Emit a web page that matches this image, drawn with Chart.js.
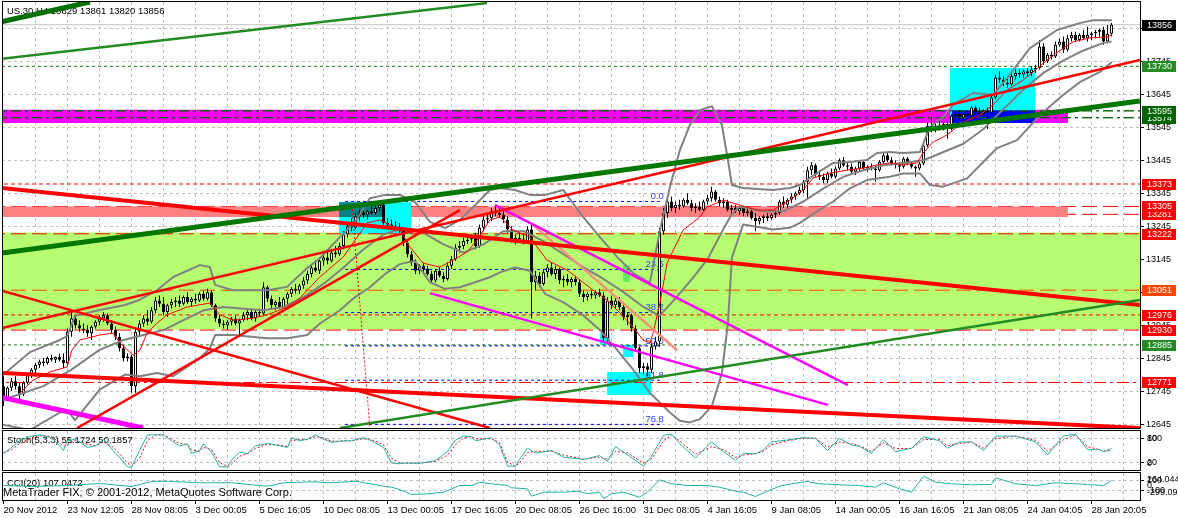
<!DOCTYPE html>
<html>
<head>
<meta charset="utf-8">
<script src="https://cdn.jsdelivr.net/npm/chart.js@4.4.1/dist/chart.umd.min.js"></script>
<style>
html,body{margin:0;padding:0;background:#ffffff;}
#wrap{position:relative;width:1178px;height:518px;overflow:hidden;background:#ffffff;}
#wrap canvas{position:absolute;left:0;}
</style>
</head>
<body>
<div id="wrap">
<canvas id="cMain" width="1178" height="430" style="top:0px"></canvas>
<canvas id="cStoch" width="1178" height="41" style="top:430px"></canvas>
<canvas id="cCci" width="1178" height="46" style="top:472px"></canvas>
</div>
<script>
// ---------------- DATA ----------------
const symbolInfo = 'US.30,H4 13829 13861 13820 13856';
const stochTitle = 'Stoch(5,3,3) 55.1724 50.1857';
const cciTitle = 'CCI(20) 107.0472';
const copyrightText = 'MetaTrader FIX, \u00A9 2001-2012, MetaQuotes Software Corp.';

const timeLabels = ['20 Nov 2012','23 Nov 12:05','28 Nov 08:05','3 Dec 00:05','5 Dec 16:05','10 Dec 08:05',
  '13 Dec 00:05','17 Dec 16:05','20 Dec 08:05','26 Dec 16:00','31 Dec 08:05','4 Jan 16:05','9 Jan 08:05',
  '14 Jan 00:05','16 Jan 16:05','21 Jan 08:05','24 Jan 04:05','28 Jan 20:05'];
const priceTicks = [12645,12745,12845,12945,13045,13145,13245,13345,13445,13545,13645,13745,13845];

// [open, high, low, close] per H4 bar
const candles = [
[12760,12790,12700,12725],[12725,12760,12720,12755],[12755,12785,12745,12775],[12775,12790,12750,12760],
[12760,12770,12720,12735],[12735,12775,12730,12770],[12770,12800,12765,12795],[12795,12815,12785,12810],
[12810,12830,12800,12825],[12825,12840,12815,12835],[12835,12845,12820,12830],[12830,12850,12825,12845],
[12845,12855,12835,12840],[12840,12850,12830,12848],[12848,12858,12835,12840],[12840,12860,12815,12830],
[12830,12935,12825,12925],[12925,12985,12910,12965],[12965,12975,12935,12945],[12945,12960,12925,12935],
[12935,12950,12920,12930],[12930,12945,12910,12920],[12920,12945,12900,12940],[12940,12960,12935,12955],
[12955,12975,12945,12965],[12965,12985,12955,12975],[12975,12980,12945,12950],[12950,12960,12920,12930],
[12930,12940,12900,12910],[12910,12920,12865,12875],[12875,12885,12835,12845],[12845,12860,12835,12850],
[12850,12855,12740,12760],[12760,12935,12740,12925],[12925,12960,12915,12950],[12950,12975,12940,12965],
[12965,12990,12945,12955],[12955,13000,12950,12990],[12990,13030,12980,13020],[13020,13035,13000,13010],
[13010,13030,12975,12985],[12985,13010,12970,13005],[13005,13025,12995,13015],[13015,13030,13000,13020],
[13020,13035,13000,13010],[13010,13035,13005,13030],[13030,13045,13010,13015],[13015,13030,13000,13025],
[13025,13040,13010,13020],[13020,13045,13015,13040],[13040,13050,13020,13025],[13025,13055,13020,13045],
[13045,13050,13000,13005],[13005,13010,12955,12965],[12965,12975,12940,12950],[12950,12960,12935,12945],
[12945,12960,12930,12955],[12955,12970,12945,12965],[12965,12975,12945,12950],[12950,12965,12910,12960],
[12960,12985,12955,12975],[12975,12990,12960,12985],[12985,12995,12960,12965],[12965,12990,12955,12985],
[12985,12995,12970,12980],[12980,13075,12975,13060],[13060,13065,13015,13025],[13025,13035,12995,13005],
[13005,13020,12990,13015],[13015,13030,12995,13000],[13000,13030,12995,13025],[13025,13045,13010,13040],
[13040,13060,13030,13055],[13055,13070,13040,13050],[13050,13070,13040,13065],[13065,13090,13055,13080],
[13080,13110,13070,13100],[13100,13130,13090,13120],[13120,13140,13105,13110],[13110,13150,13100,13140],
[13140,13160,13125,13150],[13150,13165,13130,13140],[13140,13175,13135,13165],[13165,13185,13150,13160],
[13160,13195,13155,13185],[13185,13230,13175,13220],[13220,13255,13210,13245],[13245,13270,13230,13240],
[13240,13285,13235,13275],[13275,13295,13260,13285],[13285,13300,13270,13280],[13280,13295,13265,13290],
[13290,13305,13280,13285],[13285,13310,13280,13300],[13300,13320,13290,13310],[13310,13320,13245,13255],
[13255,13270,13240,13250],[13250,13265,13235,13245],[13245,13260,13230,13240],[13240,13255,13225,13235],
[13235,13240,13185,13195],[13195,13200,13150,13160],[13160,13170,13125,13135],[13135,13145,13100,13110],
[13110,13130,13100,13125],[13125,13135,13105,13115],[13115,13125,13095,13100],[13100,13110,13070,13080],
[13080,13115,13075,13110],[13110,13120,13090,13095],[13095,13105,13075,13085],[13085,13135,13080,13125],
[13125,13155,13115,13145],[13145,13190,13140,13180],[13180,13200,13165,13185],[13185,13210,13175,13200],
[13200,13215,13190,13205],[13205,13220,13195,13210],[13210,13225,13175,13185],[13185,13250,13180,13240],
[13240,13275,13230,13265],[13265,13285,13255,13270],[13270,13300,13260,13290],[13290,13310,13275,13285],
[13285,13300,13270,13280],[13280,13290,13255,13265],[13265,13275,13225,13235],[13235,13245,13195,13205],
[13205,13220,13190,13210],[13210,13225,13195,13205],[13205,13220,13190,13200],[13200,13245,13195,13235],
[13235,13250,12965,13075],[13075,13110,13050,13095],[13095,13105,13060,13070],[13070,13115,13065,13105],
[13105,13130,13090,13120],[13120,13135,13095,13100],[13100,13125,13085,13115],[13115,13120,13070,13080],
[13080,13095,13060,13085],[13085,13100,13065,13075],[13075,13090,13060,13085],[13085,13095,13065,13075],
[13075,13085,13030,13040],[13040,13050,13015,13030],[13030,13045,13020,13040],[13040,13050,13025,13035],
[13035,13050,13025,13045],[13045,13055,13030,13035],[13035,13045,12895,12905],[12905,13030,12895,13020],
[13020,13035,12995,13005],[13005,13030,12995,13020],[13020,13030,12990,13000],[13000,13010,12960,12970],
[12970,12985,12945,12975],[12975,12980,12925,12935],[12935,12945,12865,12875],[12875,12880,12800,12815],
[12815,12830,12795,12820],[12820,12830,12790,12810],[12810,12890,12800,12880],[12880,12910,12870,12895],
[12895,13240,12880,13230],[13230,13300,13220,13285],[13285,13330,13270,13320],[13320,13335,13290,13300],
[13300,13320,13285,13310],[13310,13325,13295,13305],[13305,13330,13300,13325],[13325,13345,13310,13315],
[13315,13325,13290,13300],[13300,13315,13285,13305],[13305,13320,13290,13295],[13295,13325,13290,13320],
[13320,13340,13310,13330],[13330,13365,13320,13350],[13350,13355,13320,13325],[13325,13335,13305,13315],
[13315,13330,13300,13320],[13320,13325,13290,13295],[13295,13310,13280,13300],[13300,13310,13285,13290],
[13290,13305,13280,13300],[13300,13305,13275,13285],[13285,13300,13275,13290],[13290,13295,13265,13270],
[13270,13285,13230,13260],[13260,13275,13250,13270],[13270,13280,13255,13275],[13275,13285,13260,13270],
[13270,13285,13265,13280],[13280,13295,13270,13285],[13285,13325,13280,13320],[13320,13335,13300,13310],
[13310,13330,13300,13325],[13325,13345,13315,13335],[13335,13350,13325,13345],[13345,13365,13340,13355],
[13355,13385,13345,13380],[13380,13425,13325,13415],[13415,13440,13400,13430],[13430,13435,13395,13400],
[13400,13415,13385,13395],[13395,13405,13375,13385],[13385,13410,13375,13405],[13405,13420,13390,13395],
[13395,13425,13390,13420],[13420,13450,13415,13445],[13445,13455,13425,13430],[13430,13440,13415,13425],
[13425,13435,13405,13410],[13410,13425,13400,13420],[13420,13445,13410,13440],[13440,13445,13415,13420],
[13420,13430,13410,13425],[13425,13435,13415,13420],[13420,13430,13380,13415],[13415,13445,13410,13440],
[13440,13470,13435,13460],[13460,13470,13440,13445],[13445,13455,13430,13435],[13435,13445,13420,13430],
[13430,13440,13410,13425],[13425,13455,13420,13450],[13450,13455,13430,13435],[13435,13440,13420,13425],
[13425,13430,13395,13420],[13420,13440,13415,13435],[13435,13500,13430,13490],[13490,13560,13485,13550],
[13550,13575,13530,13540],[13540,13560,13530,13550],[13550,13565,13535,13545],[13545,13560,13535,13555],
[13555,13565,13510,13540],[13540,13585,13535,13580],[13580,13595,13570,13585],[13585,13595,13570,13575],
[13575,13590,13565,13585],[13585,13595,13570,13580],[13580,13610,13575,13605],[13605,13610,13585,13590],
[13590,13605,13580,13585],[13585,13600,13575,13595],[13595,13605,13540,13590],[13590,13640,13585,13635],
[13635,13705,13630,13695],[13695,13715,13680,13690],[13690,13700,13670,13680],[13680,13700,13665,13675],
[13675,13710,13670,13700],[13700,13720,13690,13710],[13710,13720,13695,13705],[13705,13720,13695,13715],
[13715,13725,13700,13710],[13710,13730,13700,13720],[13720,13735,13710,13725],[13725,13810,13720,13790],
[13790,13800,13735,13745],[13745,13770,13740,13765],[13765,13775,13750,13760],[13760,13805,13755,13795],
[13795,13815,13790,13805],[13805,13820,13770,13780],[13780,13825,13775,13815],[13815,13835,13805,13825],
[13825,13835,13805,13810],[13810,13830,13805,13825],[13825,13840,13810,13815],[13815,13850,13805,13825],
[13825,13835,13810,13830],[13830,13840,13815,13835],[13835,13845,13820,13840],[13840,13850,13795,13805],
[13805,13855,13800,13829],[13829,13861,13820,13856]
];

// Bollinger band lines and fast MA: [bar, price]
const bbUpper = [[-1,12785],[6.6,12863],[14.1,12900],[15.9,12912],[17.9,12973],[24.1,12991],[30.4,13006],[34.1,13022],[38.4,13051],[42.4,13091],[49.1,13127],[51.6,13121],[52.9,13067],[57.4,13051],[65.9,13051],[70.9,13061],[75.9,13118],[79.1,13148],[84.1,13212],[87.9,13258],[91.6,13330],[95.4,13340],[99.1,13340],[102.9,13318],[106.6,13258],[110.4,13239],[114.1,13264],[117.9,13309],[121.6,13355],[124.1,13361],[127.9,13355],[131.6,13340],[135.4,13340],[139.9,13355],[144.9,13273],[149.1,13212],[153.4,13152],[157.4,13103],[161.6,13073],[164.1,13233],[166.6,13364],[169.1,13476],[171.6,13552],[174.1,13597],[177.1,13609],[179.6,13552],[181.1,13446],[182.1,13370],[184.9,13361],[192.4,13355],[196.6,13361],[199.1,13370],[203.4,13406],[207.4,13437],[211.6,13440],[215.9,13446],[218.4,13467],[221.6,13470],[224.9,13467],[229.1,13470],[231.6,13546],[234.9,13576],[237.4,13613],[242.4,13649],[247.4,13643],[250.9,13694],[256.6,13785],[263.4,13840],[269.1,13861],[272.4,13870],[277.1,13870]];
const bbMiddle = [[-1,12715],[10,12760],[17,12810],[24,12870],[30,12900],[35,12915],[40,12930],[45,12960],[50,12990],[55,13000],[60,12995],[65,12990],[70,13000],[75,13030],[80,13070],[85,13120],[90,13175],[95,13220],[100,13240],[105,13225],[110,13190],[115,13165],[120,13190],[125,13230],[130,13230],[135,13200],[140,13160],[145,13120],[150,13085],[155,13045],[160,13000],[164,12973],[168,13026],[172,13083],[176,13145],[180,13237],[182,13280],[184,13305],[190,13290],[195,13290],[200,13320],[205,13360],[210,13395],[215,13415],[220,13430],[225,13437],[230,13445],[235,13470],[240,13495],[245,13540],[250,13600],[255,13660],[260,13710],[265,13748],[270,13778],[275,13801],[277,13805]];
const bbLower = [[-1,12645],[6.6,12627],[14.1,12680],[15.9,12688],[17.9,12657],[24.1,12750],[30.4,12795],[34.1,12790],[38.4,12800],[42.4,12790],[49.1,12845],[51.6,12875],[52.9,12915],[57.4,12915],[65.9,12905],[70.9,12905],[75.9,12915],[79.1,12950],[84.1,12990],[87.9,13030],[91.6,13060],[95.4,13100],[99.1,13130],[102.9,13140],[106.6,13075],[110.4,13055],[114.1,13060],[117.9,13075],[121.6,13090],[124.1,13105],[127.9,13120],[131.6,13110],[135.4,13040],[139.9,13015],[144.9,12975],[149.1,12930],[153.4,12870],[157.4,12810],[161.6,12740],[164.1,12710],[166.6,12680],[169.1,12655],[171.6,12650],[174.1,12660],[177.1,12700],[179.6,12800],[181.1,12950],[182.1,13150],[184.9,13250],[192.4,13235],[196.6,13240],[199.1,13255],[203.4,13290],[207.4,13320],[211.6,13360],[215.9,13385],[218.4,13390],[221.6,13395],[224.9,13405],[229.1,13405],[231.6,13370],[234.9,13365],[240.9,13390],[248.4,13482],[253.4,13506],[259.1,13582],[264.9,13643],[269.1,13682],[274.1,13713],[277.1,13743]];
const maFast = [[4.1,12739],[7.4,12778],[11.6,12803],[15.9,12818],[17.1,12869],[19.1,12900],[24.1,12915],[27.4,12921],[29.1,12891],[32.4,12854],[34.1,12869],[35.9,12921],[38.4,12951],[40.9,12976],[45.9,13000],[51.6,13012],[54.1,12976],[57.4,12960],[62.4,12966],[65.9,12976],[70.9,13000],[74.1,13027],[75.9,13051],[79.1,13091],[84.9,13151],[90.9,13255],[94.1,13264],[99.1,13233],[101.6,13182],[104.9,13133],[109.1,13121],[112.4,13142],[115.9,13167],[118.4,13203],[121.6,13264],[124.1,13273],[127.4,13233],[131.6,13212],[133.4,13182],[135.9,13142],[140.9,13112],[144.1,13082],[147.4,13051],[150.9,13021],[154.1,12982],[157.4,12939],[159.9,12900],[161.6,12891],[162.4,12921],[164.1,13012],[165.9,13133],[169.9,13233],[174.1,13273],[175.9,13303],[179.9,13324],[184.1,13309],[188.4,13294],[192.4,13294],[196.6,13324],[199.9,13355],[202.4,13391],[206.6,13406],[210.9,13415],[214.9,13421],[218.4,13431],[221.6,13437],[224.9,13431],[228.4,13437],[229.9,13467],[232.4,13500],[235.9,13522],[239.9,13561],[244.1,13582],[247.4,13613],[250.9,13658],[254.9,13688],[257.4,13713],[260.9,13749],[264.9,13785],[267.4,13804],[271.6,13816],[275.9,13819],[277.1,13825]];

// horizontal levels (price)
const levelValues = [13856,13730,13595,13574,13373,13305,13281,13222,13051,12976,12930,12885,12771];

// fibonacci
const fibLevelNames = ['0.0','23.6','38.2','50.0','61.8','76.8'];
const fibPrices = [13320,13114,12983,12882,12778,12644];
const fibSpan = [85.4,164.1];
const fibLabelBar = 165.1;

// zones / boxes: [barFrom, barTo, priceTop, priceBottom]
const zoneGreen   = [-3, 287, 13226, 12932];
const zonePink    = [-0.4, 266.1, 13305, 13273];
const zoneMagenta = [-0.4, 266.1, 13598, 13558];
const boxCyanA    = [83.9, 101.9, 13318, 13221];
const boxTealA    = [83.9, 94.9, 13318, 13273];
const boxCyanB    = [150.9, 161.9, 12803, 12733];
const boxCyanC    = [149.1, 151.6, 12921, 12885];
const boxCyanD    = [154.9, 157.4, 12885, 12848];
const boxGreenE   = [154.9, 156.6, 13127, 13076];
const boxCyanF    = [236.6, 257.9, 13725, 13558];
const boxBlueF    = [237.1, 257.9, 13597, 13558];

// trend lines: [bar0, price0, bar1, price1]
const trendGreenTop   = [-0.9, 13864, 21.6, 13925];
const trendGreenThin  = [-0.9, 13752, 120.9, 13922];
const trendGreenMain  = [-0.4, 13164, 284.1, 13625];
const trendGreenLow   = [84.1, 12633, 284.1, 13021];
const trendRedMain    = [-0.4, 13361, 284.1, 13006];
const trendRedLow     = [-0.4, 12800, 284.1, 12633];
const trendRedRise    = [-0.4, 12936, 284.1, 13749];
const trendRedSteep   = [18.4, 12633, 114.1, 13294];
const trendRedFall    = [-0.9, 13051, 121.6, 12633];
const trendMagentaA   = [122.9, 13309, 211.1, 12763];
const trendMagentaB   = [106.6, 13042, 206.1, 12703];
const trendMagentaLow = [-0.9, 12727, 34.9, 12633];
const trendSalmon     = [132.4, 13249, 168.4, 12869];
const fibTrend        = [87.1, 13309, 91.6, 12633];

// stochastic (bar, %K, %D)
const stochBars = [0,2,4,7,9,12,14,15,16,18,21,23,25,27,29,31,32,34,36,38,40,42,44,46,47,49,50,52,54,56,57,59,61,63,66,69,71,72,74,76,78,80,82,85,87,90,92,95,97,99,100,104,108,111,113,115,117,118,122,124,126,128,129,131,133,137,140,145,149,151,153,156,160,162,165,167,169,173,177,180,183,185,188,190,192,196,200,203,206,209,212,214,217,220,223,227,230,234,236,239,242,245,248,253,258,261,265,268,271,274,275,277];
const stochMain = [42,58,75,87,90,83,62,50,75,79,58,62,79,54,33,8,7,50,90,90,90,75,62,67,42,50,67,46,8,8,25,46,42,62,68,62,58,83,75,79,90,79,71,75,75,83,75,58,18,16,18,17,24,47,77,87,86,75,83,64,10,10,27,56,43,50,33,27,37,22,60,39,10,35,89,92,68,31,72,47,25,43,41,52,72,77,83,81,50,81,64,61,43,78,47,56,85,75,56,72,72,50,87,87,72,39,87,92,52,52,47,55.17];
const stochSignal = [45,52,68,82,88,86,70,60,65,76,66,62,72,62,42,18,10,30,75,90,90,80,68,65,52,48,58,52,20,8,15,35,42,55,66,64,60,75,78,78,86,82,74,74,75,80,78,65,30,18,17,18,22,38,65,82,86,80,80,70,20,10,18,45,48,48,38,28,33,28,48,44,18,28,75,90,75,40,60,52,32,38,42,48,65,75,82,82,58,72,68,62,48,70,55,55,78,78,62,68,72,56,80,87,76,48,78,90,60,52,48,50.19];

// CCI (bar, value)
const cciBars = [0,7,16,24,32,37,41,49,57,66,70,77,82,88,95,97,99,102,106,110,114,117,119,122,126,127,131,132,135,140,144,146,149,150,152,155,159,161,164,167,171,176,179,183,185,188,191,194,197,201,204,209,214,218,220,224,227,230,233,237,242,247,248,253,258,263,268,271,275,277];
const cciValues = [3,-17,3,45,-17,87,93,60,60,-11,60,80,60,93,-11,-32,-80,-184,-170,-136,3,3,72,39,3,-45,-65,-220,-136,-136,-115,-170,-136,-274,-170,-136,-241,-136,122,39,3,3,-32,-115,-136,-226,-115,-11,39,87,39,18,3,-32,60,-65,-136,197,72,39,18,24,164,39,3,60,39,24,3,107.05];
const cciMax = 264.0449, cciMin = -299.0991;

// ---------------- RENDER ----------------
const FONT = "'Liberation Sans', Arial, sans-serif";
Chart.defaults.font.family = FONT;
Chart.defaults.font.size = 9.5;
Chart.defaults.color = '#000';
const X_MIN = -0.375, X_MAX = 284.125;
const Y_MIN = 12633, Y_MAX = 13925;
const GRID = '#c0c0c0';
const gridBars = [];
for (let b = 0; b <= 280; b += 8) gridBars.push(b);

const zeroPad = s => { s.paddingTop = 0; s.paddingBottom = 0; s.paddingLeft = 0; s.paddingRight = 0; };
const fixW = w => s => { s.width = w; zeroPad(s); };
const fixH = h => s => { s.height = h; zeroPad(s); };

const L = (data, color, width, order, dash) => ({type:'line', data, borderColor:color, borderWidth:width,
  borderDash:dash || [], pointRadius:0, pointHoverRadius:0, pointHitRadius:0, fill:false, tension:0,
  clip:0, order, borderCapStyle:'butt', borderJoinStyle:'round'});
const R = (r, color, order) => ({type:'line', data:[{x:r[0], y:r[2]}, {x:r[1], y:r[2]}],
  borderColor:'rgba(0,0,0,0)', borderWidth:1, backgroundColor:color, pointRadius:0, pointHitRadius:0,
  fill:{value:r[3]}, clip:0, order});
const P = a => a.map(p => ({x:p[0], y:p[1]}));
const T = t => [{x:t[0], y:t[1]}, {x:t[2], y:t[3]}];
const H = v => [{x:X_MIN - 3, y:v}, {x:X_MAX + 3, y:v}];

const levelStyles = [
  {c:'#c0c0c0', d:[], box:'#000000', o:80},
  {c:'#008000', d:[3,3], box:'#228b22', o:80},
  {c:'#006400', d:[10,4,3,4], box:'#006400', o:80},
  {c:'#006400', d:[10,4,3,4], box:'#006400', o:80},
  {c:'#ff0000', d:[4,3], box:'#ff0000', o:80},
  {c:'#ff0000', d:[15,6], box:'#ff0000', o:95},
  {c:'#ff0000', d:[15,6], box:'#ff0000', o:95},
  {c:'#ff0000', d:[15,6], box:'#ff0000', o:80},
  {c:'#ff4500', d:[15,6], box:'#ff4500', o:80},
  {c:'#ff0000', d:[4,3], box:'#ff0000', o:80},
  {c:'#ff0000', d:[15,6], box:'#ff0000', o:80},
  {c:'#008000', d:[3,3], box:'#228b22', o:80},
  {c:'#ff0000', d:[12,4,3,4], box:'#ff0000', o:80}
];

const ds = [];
ds.push(R(zoneGreen, '#b6fd72', 100));
levelValues.forEach((v, i) => ds.push(L(H(v), levelStyles[i].c, 1, levelStyles[i].o, levelStyles[i].d)));
ds.push(R(zonePink, '#ff8080', 90));
ds.push(R(zoneMagenta, '#ff00ff', 89));
[boxCyanA, boxCyanB, boxCyanC, boxCyanD, boxCyanF].forEach(b => ds.push(R(b, '#00ffff', 88)));
ds.push(R(boxGreenE, '#5ef05e', 88));
ds.push(R(boxTealA, '#008080', 87));
ds.push(R(boxBlueF, '#0000ff', 87));
ds.push(L(H(levelValues[2]), '#006400', 1, 85, [10,4,3,4]));
ds.push(L(H(levelValues[3]), '#006400', 1, 85, [10,4,3,4]));
fibPrices.forEach(p => ds.push(L([{x:fibSpan[0], y:p}, {x:fibSpan[1], y:p}], '#0000ff', 1, 75, [3,3])));

const wickDS = {type:'bar', data:candles.map((c, i) => ({x:i, y:[c[2], c[1]]})), backgroundColor:'#000000',
  borderWidth:0, barThickness:1, grouped:false, inflateAmount:0, order:70, _wick:true};
const bodyDS = {type:'bar', data:candles.map((c, i) => ({x:i, y:[c[0], c[3]]})),
  backgroundColor:candles.map(c => c[3] > c[0] ? '#ffffff' : '#000000'), borderColor:'#000000',
  borderWidth:1, borderSkipped:false, barThickness:3, grouped:false, inflateAmount:0, minBarLength:1, order:69};
ds.push(wickDS, bodyDS);

ds.push(L(P(bbUpper), '#808080', 2, 60));
ds.push(L(P(bbMiddle), '#808080', 2, 60));
ds.push(L(P(bbLower), '#808080', 2, 60));
ds.push(L(P(maFast), '#ff0000', 1, 59));

ds.push(L(T(trendGreenTop), '#007000', 5, 50));
ds.push(L(T(trendGreenThin), '#228b22', 2.5, 50));
ds.push(L(T(trendGreenMain), '#007800', 5, 50));
ds.push(L(T(trendGreenLow), '#228b22', 2.5, 50));
ds.push(L(T(trendRedMain), '#ff0000', 4, 50));
ds.push(L(T(trendRedLow), '#ff0000', 4, 50));
ds.push(L(T(trendRedRise), '#ff0000', 2.5, 50));
ds.push(L(T(trendRedSteep), '#ff0000', 2.5, 50));
ds.push(L(T(trendRedFall), '#ff0000', 2.5, 50));
ds.push(L(T(trendMagentaA), '#ff00ff', 2.5, 50));
ds.push(L(T(trendMagentaB), '#ff00ff', 2.5, 50));
ds.push(L(T(trendMagentaLow), '#ff00ff', 5, 50));
ds.push(L(T(trendSalmon), '#f4927a', 2.5, 50));
ds.push(L(T(fibTrend), '#ff0000', 1, 49, [2,2]));

function drawFrame(chart) {
  const {ctx, chartArea:a} = chart;
  ctx.save();
  ctx.strokeStyle = '#000000'; ctx.lineWidth = 1; ctx.setLineDash([]);
  ctx.strokeRect(Math.round(a.left) + 0.5, Math.round(a.top) - 0.5,
    Math.round(a.right - a.left), Math.round(a.bottom - a.top) + 1);
  ctx.restore();
}

const xGridScale = (showLabels, h) => ({
  type:'linear', min:X_MIN, max:X_MAX, position:'bottom', z:1, offset:false,
  afterBuildTicks: s => { s.ticks = gridBars.map(v => ({value:v})); },
  afterFit: fixH(h),
  grid:{offset:false, color: c => (c.tick && c.tick.value === 0) ? 'rgba(0,0,0,0)' : GRID, lineWidth:1,
    drawTicks: showLabels, tickLength:4,
    tickColor: c => (c.tick && c.tick.value % 16 === 0) ? '#000000' : 'rgba(0,0,0,0)'},
  border:{display:false, dash:[3,3]},
  ticks:{display: showLabels, autoSkip:false, maxRotation:0, minRotation:0, align:'start', padding:1,
    color:'#000', font:{size:9.5},
    callback: v => (v % 16 === 0 && timeLabels[v / 16]) ? timeLabels[v / 16] : ''}
});

const mainPlugin = {
  id:'mainDecor',
  beforeDatasetsDraw(chart) {
    const {ctx} = chart;
    ctx.save();
    ctx.font = '9.5px ' + FONT; ctx.fillStyle = '#000'; ctx.textAlign = 'left'; ctx.textBaseline = 'middle';
    ctx.fillText(symbolInfo, 7, 11);
    ctx.restore();
  },
  beforeDatasetDraw(chart, args) {
    if (!chart.data.datasets[args.index]._wick) return;
    const {ctx} = chart; const x = chart.scales.x, y = chart.scales.y;
    ctx.save();
    ctx.font = '9.5px ' + FONT; ctx.fillStyle = '#2a46ff'; ctx.textAlign = 'right'; ctx.textBaseline = 'bottom';
    fibLevelNames.forEach((n, i) => ctx.fillText(n, x.getPixelForValue(fibLabelBar), y.getPixelForValue(fibPrices[i])));
    ctx.restore();
  },
  afterDraw(chart) {
    drawFrame(chart);
    const {ctx, chartArea:a} = chart; const y = chart.scales.y;
    ctx.save();
    ctx.font = '9px ' + FONT; ctx.textAlign = 'left'; ctx.textBaseline = 'middle';
    for (let i = levelValues.length - 1; i >= 0; i--) {
      const py = Math.round(y.getPixelForValue(levelValues[i]));
      ctx.fillStyle = levelStyles[i].box;
      ctx.fillRect(a.right + 2, py - 5, 34, 11);
      ctx.fillStyle = '#ffffff';
      ctx.fillText(String(levelValues[i]), a.right + 7, py + 0.5);
    }
    ctx.restore();
  }
};

new Chart(document.getElementById('cMain'), {
  type:'line',
  data:{datasets:ds},
  options:{
    responsive:false, animation:false, devicePixelRatio:1, events:[],
    layout:{padding:{left:2, top:2, right:0, bottom:0}},
    plugins:{legend:{display:false}, tooltip:{enabled:false}},
    scales:{
      x: xGridScale(false, 2),
      y: {type:'linear', position:'right', min:Y_MIN, max:Y_MAX, z:1, offset:false,
        afterBuildTicks: s => { s.ticks = priceTicks.map(v => ({value:v})); },
        afterFit: fixW(38),
        grid:{offset:false, color:GRID, lineWidth:1, drawTicks:true, tickLength:4, tickColor:'#000000'},
        border:{display:false, dash:[3,3]},
        ticks:{autoSkip:false, padding:2, color:'#000', font:{size:9}, callback: v => String(v)}}
    }
  },
  plugins:[mainPlugin]
});

// ---- Stochastic ----
const stochPlugin = {
  id:'stochDecor',
  beforeDatasetsDraw(chart) {
    const {ctx} = chart;
    ctx.save(); ctx.font = '9.5px ' + FONT; ctx.fillStyle = '#000'; ctx.textAlign = 'left'; ctx.textBaseline = 'middle';
    ctx.fillText(stochTitle, 7, 10); ctx.restore();
  },
  afterDraw(chart) {
    drawFrame(chart);
    const {ctx, chartArea:a} = chart; const y = chart.scales.y;
    ctx.save(); ctx.font = '9px ' + FONT; ctx.fillStyle = '#000'; ctx.textAlign = 'left'; ctx.textBaseline = 'middle';
    ctx.fillText('100', a.right + 7, y.getPixelForValue(80));
    ctx.fillText('80', a.right + 7, y.getPixelForValue(80));
    ctx.fillText('20', a.right + 7, y.getPixelForValue(20));
    ctx.fillText('0', a.right + 7, y.getPixelForValue(20) + 1);
    ctx.restore();
  }
};
new Chart(document.getElementById('cStoch'), {
  type:'line',
  data:{datasets:[
    L(stochBars.map((b, i) => ({x:b, y:stochSignal[i]})), '#ff0000', 1, 2, [2,2]),
    L(stochBars.map((b, i) => ({x:b, y:stochMain[i]})), '#20b2aa', 1, 1)
  ]},
  options:{
    responsive:false, animation:false, devicePixelRatio:1, events:[],
    layout:{padding:{left:2, top:1, right:0, bottom:0}},
    plugins:{legend:{display:false}, tooltip:{enabled:false}},
    scales:{
      x: xGridScale(false, 1),
      y: {type:'linear', position:'right', min:0, max:100, z:1,
        afterBuildTicks: s => { s.ticks = [{value:20}, {value:80}]; },
        afterFit: fixW(38),
        grid:{color:GRID, drawTicks:true, tickLength:4, tickColor:'#000000'},
        border:{display:false, dash:[3,3]},
        ticks:{display:false}}
    }
  },
  plugins:[stochPlugin]
});

// ---- CCI ----
const cciPlugin = {
  id:'cciDecor',
  beforeDatasetsDraw(chart) {
    const {ctx} = chart;
    ctx.save(); ctx.fillStyle = '#000'; ctx.textAlign = 'left'; ctx.textBaseline = 'middle';
    ctx.font = '9.5px ' + FONT; ctx.fillText(cciTitle, 7, 11);
    ctx.font = '11px ' + FONT; ctx.fillText(copyrightText, 3, 21);
    ctx.restore();
  },
  afterDraw(chart) {
    drawFrame(chart);
    const {ctx, chartArea:a} = chart; const y = chart.scales.y;
    ctx.save(); ctx.font = '9px ' + FONT; ctx.fillStyle = '#000'; ctx.textAlign = 'left'; ctx.textBaseline = 'middle';
    ctx.fillText(cciMax.toFixed(4), a.right + 7, a.top + 7);
    ctx.fillText('100', a.right + 7, y.getPixelForValue(100));
    ctx.fillText('0', a.right + 7, y.getPixelForValue(0));
    ctx.fillText('-100', a.right + 7, y.getPixelForValue(-100));
    ctx.fillText(cciMin.toFixed(4), a.right + 7, a.bottom - 7);
    ctx.restore();
  }
};
new Chart(document.getElementById('cCci'), {
  type:'line',
  data:{datasets:[ L(cciBars.map((b, i) => ({x:b, y:cciValues[i]})), '#20b2aa', 1, 1) ]},
  options:{
    responsive:false, animation:false, devicePixelRatio:1, events:[],
    layout:{padding:{left:2, top:1, right:0, bottom:0}},
    plugins:{legend:{display:false}, tooltip:{enabled:false}},
    scales:{
      x: xGridScale(true, 18),
      y: {type:'linear', position:'right', min:cciMin, max:cciMax, z:1,
        afterBuildTicks: s => { s.ticks = [{value:100}, {value:-100}]; },
        afterFit: fixW(38),
        grid:{color:GRID, drawTicks:true, tickLength:4, tickColor:'#000000'},
        border:{display:false, dash:[3,3]},
        ticks:{display:false}}
    }
  },
  plugins:[cciPlugin]
});
</script>
</body>
</html>
